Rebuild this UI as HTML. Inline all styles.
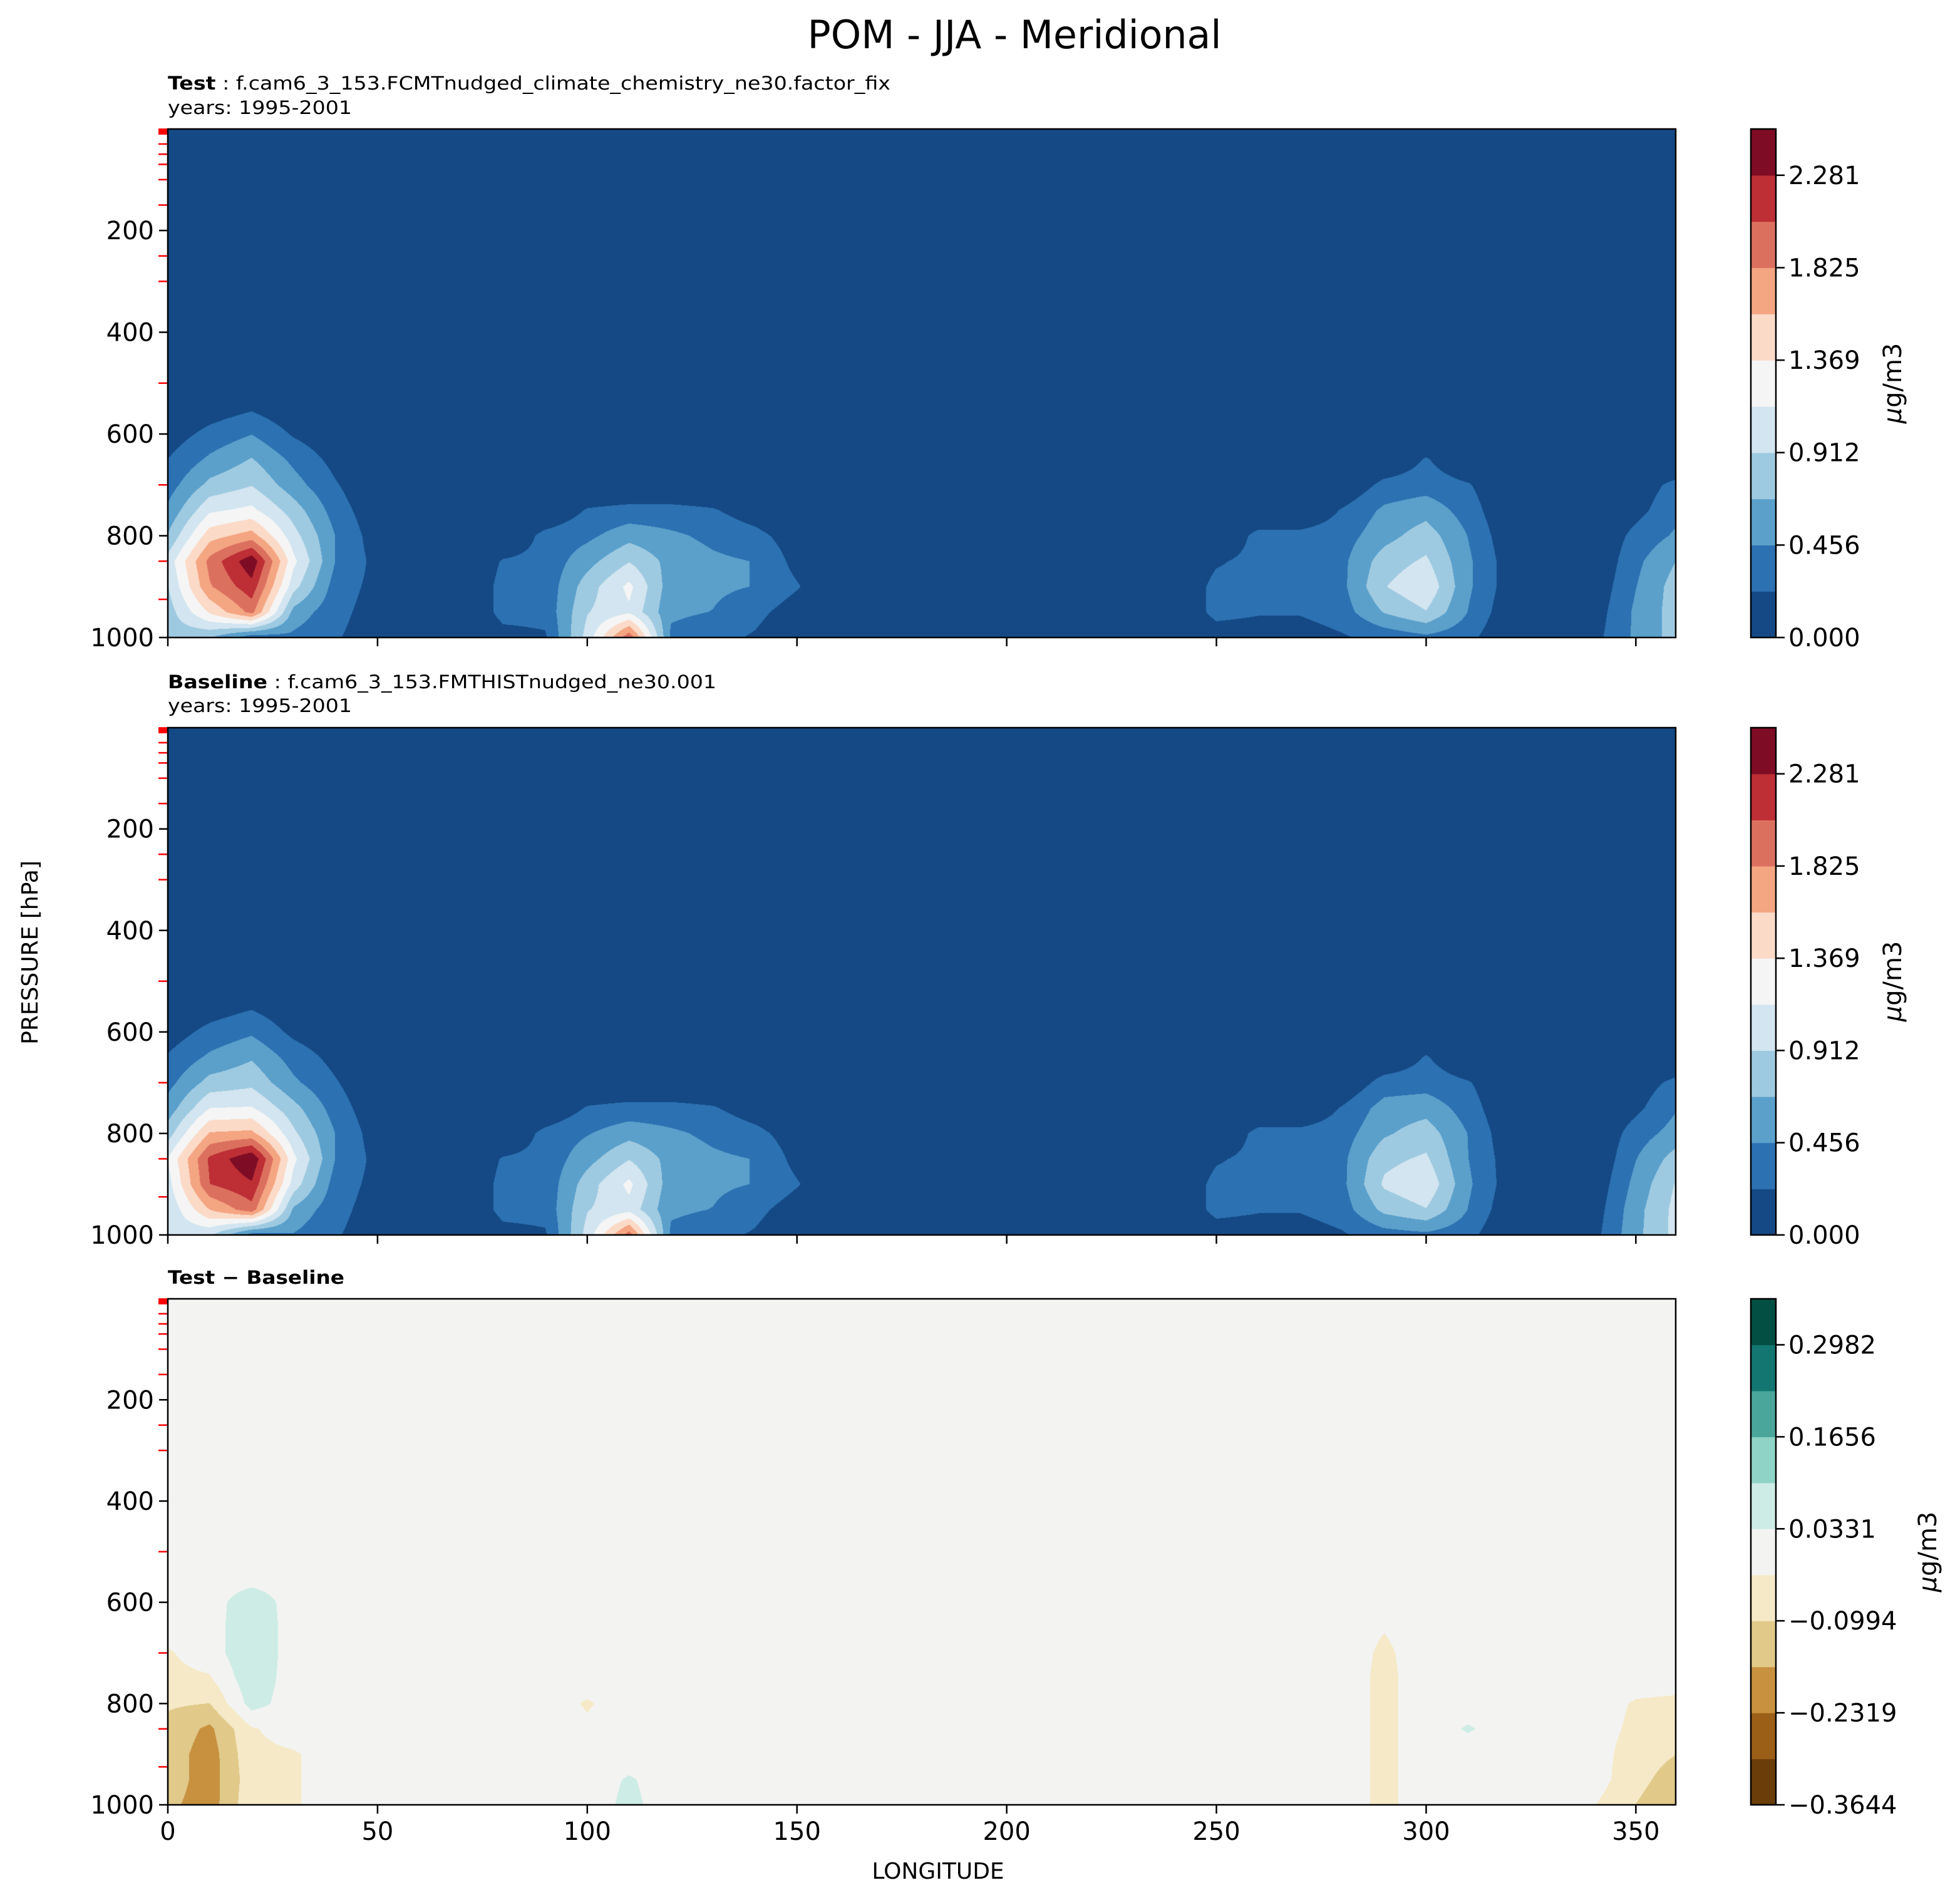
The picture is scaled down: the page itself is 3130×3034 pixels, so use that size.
<!DOCTYPE html>
<html><head><meta charset="utf-8">
<style>
html,body{margin:0;padding:0;background:#fff;}
#root{position:relative;width:3130px;height:3034px;overflow:hidden;font-family:"DejaVu Sans","Liberation Sans",sans-serif;}
canvas{position:absolute;}
svg{position:absolute;left:0;top:0;}
</style></head>
<body>
<div id="root">
<canvas id="c1" width="2408" height="812" style="left:268px;top:206px"></canvas>
<canvas id="c2" width="2408" height="810" style="left:268px;top:1162px"></canvas>
<canvas id="c3" width="2408" height="808" style="left:268px;top:2074px"></canvas>
<svg id="ov" width="3130" height="3034"></svg>
</div>
<script>
const lons = [0,10,20,30,40,50,60,70,80,90,100,110,120,130,140,150,160,170,180,190,200,210,220,230,240,250,260,270,280,290,300,310,320,330,340,350,360];
const pressures = [500,550,600,650,700,750,800,850,900,950,1000];
const testRows = [
[0,0,0,0,0,0,0,0,0,0, 0,0,0,0,0,0,0,0,0,0, 0,0,0,0,0,0,0,0,0,0, 0,0,0,0,0,0,0],
[0,.1,.2,.05,0,0,0,0,0,0, 0,0,0,0,0,0,0,0,0,0, 0,0,0,0,0,0,0,0,0,0, 0,0,0,0,0,0,0],
[.1,.3,.45,.2,.05,0,0,0,0,0, 0,0,0,0,0,0,0,0,0,0, 0,0,0,0,0,0,0,0,0,0, 0,0,0,0,0,0,0],
[.23,.5,.7,.4,.15,0,0,0,0,0, 0,0,0,0,0,0,0,0,0,0, 0,0,0,0,0,0,0,0,0,0, .25,0,0,0,0,0,0],
[.35,.75,.9,.55,.25,0,0,0,0,0, 0,0,0,0,0,0,0,0,0,0, 0,0,0,0,0,0,0,0,0,.3, .35,.25,0,0,0,.1,.3],
[.5,1.1,1.2,.8,.35,.05,0,0,0,0, .25,.3,.3,.25,.1,0,0,0,0,0, 0,0,0,0,0,0,0,0,.25,.5, .6,.35,0,0,0,.15,.4],
[.7,1.5,1.7,1.0,.45,.1,0,0,0,.3, .4,.6,.5,.4,.3,.1,0,0,0,0, 0,0,0,0,0,0,.3,.3,.35,.6, .8,.45,.05,0,0,.3,.5],
[1.0,1.9,2.45,1.2,.45,.15,0,0,.25,.3, .6,.9,.6,.5,.45,.15,0,0,0,0, 0,0,0,0,0,.2,.3,.3,.4,.8, .95,.5,.1,0,0,.4,.7],
[.9,1.8,2.2,1.0,.35,.15,0,0,.3,.3, .8,1.2,.55,.5,.45,.25,0,0,0,0, 0,0,0,0,0,.3,.3,.3,.4,.9, 1.1,.5,.1,0,.05,.45,.8],
[.8,1.4,1.9,.6,.3,.12,0,0,.3,.3, .9,1.1,.5,.45,.3,.1,0,0,0,0, 0,0,0,0,0,.3,.25,.25,.35,.7, .9,.45,.05,0,.1,.5,.8],
[.8,.7,.3,.4,.25,.1,0,0,.15,.2, 1.0,2.0,.4,.3,.2,0,0,0,0,0, 0,0,0,0,0,.1,.1,.1,.2,.3, .4,.3,0,0,.15,.5,.8]
];
const baseRows = [
[0,0,0,0,0,0,0,0,0,0, 0,0,0,0,0,0,0,0,0,0, 0,0,0,0,0,0,0,0,0,0, 0,0,0,0,0,0,0],
[0,.1,.2,.05,0,0,0,0,0,0, 0,0,0,0,0,0,0,0,0,0, 0,0,0,0,0,0,0,0,0,0, 0,0,0,0,0,0,0],
[.1,.3,.42,.17,.05,0,0,0,0,0, 0,0,0,0,0,0,0,0,0,0, 0,0,0,0,0,0,0,0,0,0, 0,0,0,0,0,0,0],
[.25,.5,.66,.36,.15,0,0,0,0,0, 0,0,0,0,0,0,0,0,0,0, 0,0,0,0,0,0,0,0,0,0, .25,0,0,0,0,0,0],
[.38,.77,.85,.5,.25,0,0,0,0,0, 0,0,0,0,0,0,0,0,0,0, 0,0,0,0,0,0,0,0,0,.33, .35,.25,0,0,0,.1,.3],
[.55,1.14,1.16,.76,.35,.05,0,0,0,0, .25,.3,.3,.25,.1,0,0,0,0,0, 0,0,0,0,0,0,0,0,.25,.55, .6,.35,0,0,0,.17,.45],
[.8,1.62,1.66,.96,.45,.1,0,0,0,.3, .44,.6,.5,.4,.3,.1,0,0,0,0, 0,0,0,0,0,0,.3,.3,.35,.65, .8,.45,.05,0,0,.34,.56],
[1.15,2.1,2.49,1.2,.45,.15,0,0,.25,.3, .6,.9,.6,.5,.45,.15,0,0,0,0, 0,0,0,0,0,.2,.3,.3,.4,.85, .95,.46,.1,0,0,.45,.8],
[1.05,2.05,2.25,1.04,.35,.15,0,0,.3,.3, .8,1.2,.55,.5,.45,.25,0,0,0,0, 0,0,0,0,0,.3,.3,.3,.4,.95, 1.1,.5,.1,0,.05,.53,.95],
[.95,1.6,1.96,.64,.3,.12,0,0,.3,.3, .9,1.06,.5,.45,.3,.1,0,0,0,0, 0,0,0,0,0,.3,.25,.25,.35,.75, .9,.45,.05,0,.1,.6,1.0],
[1.0,.95,.35,.44,.25,.1,0,0,.15,.2, 1.0,1.95,.4,.3,.2,0,0,0,0,0, 0,0,0,0,0,.1,.1,.1,.2,.35, .4,.3,0,0,.15,.62,1.0]
];
const diffRows = [
[0,0,0,0,0,0,0,0,0,0, 0,0,0,0,0,0,0,0,0,0, 0,0,0,0,0,0,0,0,0,0, 0,0,0,0,0,0,0],
[0,0,0,0,0,0,0,0,0,0, 0,0,0,0,0,0,0,0,0,0, 0,0,0,0,0,0,0,0,0,0, 0,0,0,0,0,0,0],
[0,0,.08,0,0,0,0,0,0,0, 0,0,0,0,0,0,0,0,0,0, 0,0,0,0,0,0,0,0,0,0, 0,0,0,0,0,0,0],
[0,0,.09,0,0,0,0,0,0,0, 0,0,0,0,0,0,0,0,0,0, 0,0,0,0,0,0,0,0,0,-.03, 0,0,0,0,0,0,0],
[-.04,0,.09,0,0,0,0,0,0,0, 0,0,0,0,0,0,0,0,0,0, 0,0,0,0,0,0,0,0,0,-.045, 0,0,0,0,0,0,0],
[-.05,-.04,.08,0,0,0,0,0,0,0, 0,0,0,0,0,0,0,0,0,0, 0,0,0,0,0,0,0,0,0,-.05, 0,0,0,0,0,0,0],
[-.09,-.1,.06,0,0,0,0,0,0,0, -.04,0,0,0,0,0,0,0,0,0, 0,0,0,0,0,0,0,0,0,-.05, 0,0,0,0,0,-.04,-.05],
[-.12,-.18,-.04,0,0,0,0,0,0,0, -.02,0,0,0,0,0,0,0,0,0, 0,0,0,0,0,0,0,0,0,-.05, 0,.04,0,0,0,-.05,-.07],
[-.13,-.2,-.05,-.04,0,0,0,0,0,0, 0,0,0,0,0,0,0,0,0,0, 0,0,0,0,0,0,0,0,0,-.05, 0,0,0,0,0,-.07,-.1],
[-.13,-.2,-.06,-.04,0,0,0,0,0,0, 0,.04,0,0,0,0,0,0,0,0, 0,0,0,0,0,0,0,0,0,-.05, 0,0,0,0,0,-.08,-.13],
[-.15,-.2,-.05,-.04,0,0,0,0,0,0, 0,.05,0,0,0,0,0,0,0,0, 0,0,0,0,0,0,0,0,0,-.05, 0,0,0,0,-.03,-.1,-.15]
];
const meanTicks = ["0.000","0.456","0.912","1.369","1.825","2.281"];
const diffTicks = ["\u22120.3644","\u22120.2319","\u22120.0994","0.0331","0.1656","0.2982"];
const yTicks = [200,400,600,800,1000];
const xTicks = [0,50,100,150,200,250,300,350];
const modelLevels = [1,2,3,4,5,7,10,30,50,70,100,150,250,300,500,700,850,925];

const RdBu = ["#144985","#2c71b2","#5aa0cb","#9ecae1","#d2e5f0","#f5f5f5","#fbdac7","#f4a582","#dc705f","#bd2e35","#7e0c24"];
const BrBG = ["#6a3d09","#9b5f17","#c7913f","#e1c98a","#f6e9c7","#f3f4f2","#cdece5","#8fd3c6","#4aa69b","#137670","#034f44"];

const P0 = 0.5, XMAX = 359.5;
function hex(c){return [parseInt(c.slice(1,3),16),parseInt(c.slice(3,5),16),parseInt(c.slice(5,7),16)];}
function sample(rows, lon, p){
  if(p < pressures[0]) return 0;
  let j = Math.min(pressures.length-2, Math.floor((p-pressures[0])/50));
  let ty = (p - pressures[j])/(pressures[j+1]-pressures[j]);
  let i = Math.min(lons.length-2, Math.floor(lon/10));
  let tx = (lon - lons[i])/(lons[i+1]-lons[i]);
  const a=rows[j][i],b=rows[j][i+1],c=rows[j+1][i],d=rows[j+1][i+1];
  return (a*(1-tx)+b*tx)*(1-ty)+(c*(1-tx)+d*tx)*ty;
}
function drawField(id, rows, vmin, bw, cmap){
  const cv=document.getElementById(id), ctx=cv.getContext('2d');
  const W=cv.width,H=cv.height, img=ctx.createImageData(W,H), cols=cmap.map(hex);
  for(let y=0;y<H;y++){
    const p=P0+(y+0.5)/H*(1000-P0);
    for(let x=0;x<W;x++){
      const lon=(x+0.5)/W*XMAX;
      const v=sample(rows,lon,p);
      let k=Math.floor((v-vmin)/bw+1e-9); k=Math.max(0,Math.min(10,k));
      const o=(y*W+x)*4, c=cols[k];
      img.data[o]=c[0];img.data[o+1]=c[1];img.data[o+2]=c[2];img.data[o+3]=255;
    }
  }
  ctx.putImageData(img,0,0);
}
drawField('c1',testRows,0,0.2281,RdBu);
drawField('c2',baseRows,0,0.2281,RdBu);
drawField('c3',diffRows,-0.3644,0.06626,BrBG);

const NS="http://www.w3.org/2000/svg", svg=document.getElementById('ov');
function el(tag,attrs,parent){const e=document.createElementNS(NS,tag);for(const k in attrs)e.setAttribute(k,attrs[k]);(parent||svg).appendChild(e);return e;}
function txt(s,attrs,parent){const e=el('text',attrs,parent);e.textContent=s;return e;}
const L=268,R=2676,W=R-L;
const FS=40;
const panels=[{top:206,bot:1018,ticks:meanTicks,cmap:RdBu,xl:false,ux:3036},{top:1162,bot:1972,ticks:meanTicks,cmap:RdBu,xl:false,ux:3036},{top:2074,bot:2882,ticks:diffTicks,cmap:BrBG,xl:true,ux:3092}];
const xs=v=>L+v/XMAX*W;
panels.forEach((pn,pi)=>{
  const g=el('g',{});
  
  
  const h=pn.bot-pn.top, ys=p=>pn.top+(p-P0)/(1000-P0)*h;
  modelLevels.forEach(p=>{const t=el('line',{x1:L-15,x2:L,y1:ys(p),y2:ys(p),stroke:'#ff0000','stroke-width':2.5},g);
    });
  yTicks.forEach(p=>{el('line',{x1:L-14,x2:L,y1:ys(p),y2:ys(p),stroke:'#000','stroke-width':2.5},g);
    const t=txt(String(p),{x:L-22,y:ys(p)+14,'text-anchor':'end','font-size':FS},g);
    });
  xTicks.forEach(v=>{el('line',{x1:xs(v),x2:xs(v),y1:pn.bot,y2:pn.bot+14,stroke:'#000','stroke-width':2.5},g);
    if(pn.xl){const t=txt(String(v),{x:xs(v),y:pn.bot+56,'text-anchor':'middle','font-size':FS},g);
      }});
  el('rect',{x:L,y:pn.top,width:W,height:h,fill:'none',stroke:'#000','stroke-width':2.5},g);
  const cx=2796,cw=40, bh=h/11;
  pn.cmap.forEach((c,k)=>{const r=el('rect',{x:cx,y:pn.bot-(k+1)*bh,width:cw,height:bh+0.6,fill:c},g);
    });
  el('rect',{x:cx,y:pn.top,width:cw,height:h,fill:'none',stroke:'#000','stroke-width':2.5},g);
  pn.ticks.forEach((s,k)=>{const y=pn.bot-k*2*bh;
    el('line',{x1:cx+cw,x2:cx+cw+14,y1:y,y2:y,stroke:'#000','stroke-width':2.5},g);
    const t=txt(s,{x:cx+cw+20,y:y+14,'font-size':FS},g);
    });
  const cy=(pn.top+pn.bot)/2;
  const u=el('text',{x:pn.ux,y:cy,'text-anchor':'middle','font-size':FS,transform:`rotate(-90 ${pn.ux} ${cy})`},g);
  const mu=el('tspan',{'font-style':'italic'},u);mu.textContent='\u03bc';
  const rest=el('tspan',{},u);rest.textContent='g/m3';
  
});
const t1=txt('POM - JJA - Meridional',{x:1620,y:77,'text-anchor':'middle','font-size':62,textLength:661,lengthAdjust:'spacingAndGlyphs'});

function sub(bold,rest,y,len){const t=el('text',{x:268,y:y,'font-size':29,textLength:len,lengthAdjust:'spacingAndGlyphs'});const b=el('tspan',{'font-weight':'bold'},t);b.textContent=bold;const r=el('tspan',{},t);r.textContent=rest;return t;}
const s1=sub('Test',' : f.cam6_3_153.FCMTnudged_climate_chemistry_ne30.factor_fix',143,1154);

const y1=txt('years: 1995-2001',{x:268,y:182,'font-size':29,textLength:294,lengthAdjust:'spacingAndGlyphs'});

const s2=sub('Baseline',' : f.cam6_3_153.FMTHISTnudged_ne30.001',1099,876);

const y2=txt('years: 1995-2001',{x:268,y:1137,'font-size':29,textLength:294,lengthAdjust:'spacingAndGlyphs'});

const s3=el('text',{x:268,y:2050,'font-size':29,'font-weight':'bold',textLength:282,lengthAdjust:'spacingAndGlyphs'});s3.textContent='Test \u2212 Baseline';

const xl=txt('LONGITUDE',{x:1498,y:3000,'text-anchor':'middle','font-size':36});

const yl=txt('PRESSURE [hPa]',{x:60,y:1521,'text-anchor':'middle','font-size':36,transform:'rotate(-90 60 1521)'});

</script>
</body></html>
